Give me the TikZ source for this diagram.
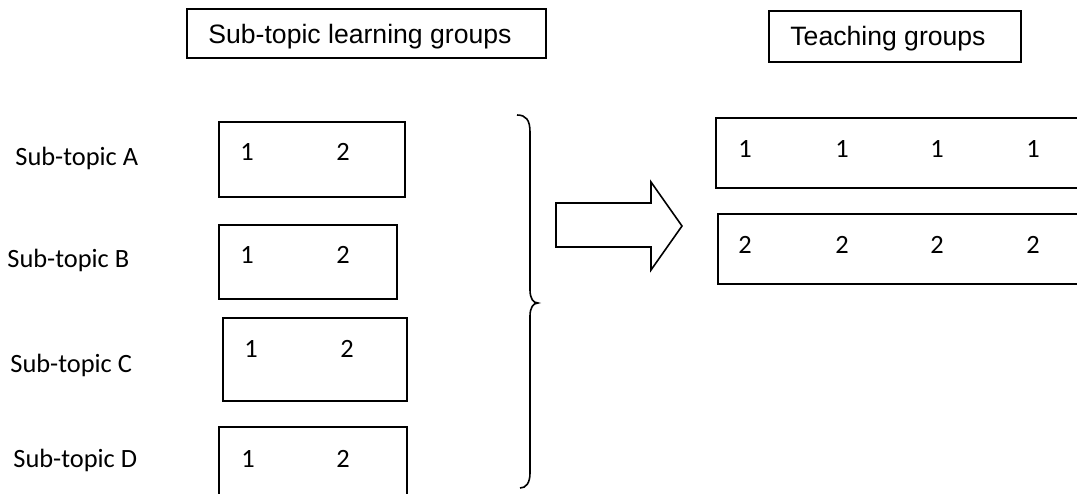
\documentclass[tikz,border=0pt]{standalone}
\usepackage{fontspec}
\setmainfont{Carlito}
\newfontfamily\headfont{Liberation Sans}
\usetikzlibrary{positioning}
\tikzset{
  headbox/.style={draw, line width=0.8pt, inner sep=0pt, font=\headfont\fontsize{13.3}{16}\selectfont},
  grpbox/.style={draw, line width=0.8pt, inner sep=0pt},
  topiclbl/.style={inner sep=0pt, anchor=base west, font=\fontsize{13.2}{16}\selectfont},
  numlbl/.style={inner sep=0pt, anchor=base, font=\fontsize{13.2}{16}\selectfont},
}
\begin{document}
\begin{tikzpicture}[x=0.5pt, y=-0.5pt]
\path[use as bounding box, clip] (0,0) rectangle (1077,493);
% headings
\node[headbox, minimum width=179.5pt, minimum height=24.5pt] (hlearn) at (366.5,33.5) {};
\node[inner sep=0pt, anchor=base west, font=\headfont\fontsize{13.3}{16}\selectfont] (tlearn) at (208,43) {Sub-topic learning groups};
\node[headbox, minimum width=126pt, minimum height=25.5pt] (hteach) at (895,36.5) {};
\node[inner sep=0pt, anchor=base west, font=\headfont\fontsize{13.3}{16}\selectfont] (tteach) at (790,45) {Teaching groups};
% sub-topic labels
\node[topiclbl] (labA) at (15,165) {Sub-topic A};
\node[topiclbl] (labB) at (7,267) {Sub-topic B};
\node[topiclbl] (labC) at (10,372) {Sub-topic C};
\node[topiclbl] (labD) at (13,467) {Sub-topic D};
% learning group boxes
\node[grpbox, minimum width=93pt, minimum height=37.5pt] (boxA) at (312,159.5) {};
\node[grpbox, minimum width=89pt, minimum height=37pt] (boxB) at (308,262) {};
\node[grpbox, minimum width=92pt, minimum height=41.5pt] (boxC) at (315,359.5) {};
\node[grpbox, minimum width=94pt, minimum height=40pt] (boxD) at (313,467) {};
\node[numlbl] (a1) at (247,160) {1};
\node[numlbl] (a2) at (343,160) {2};
\node[numlbl] (b1) at (247,263) {1};
\node[numlbl] (b2) at (343,263) {2};
\node[numlbl] (c1) at (251,357) {1};
\node[numlbl] (c2) at (347,357) {2};
\node[numlbl] (d1) at (248,467) {1};
\node[numlbl] (d2) at (343,467) {2};
% brace
\draw[line width=0.8pt] (517,115) .. controls (526,115) and (530,120) .. (530,132) -- (530,290)
  .. controls (530,298) and (533,303) .. (538,303) .. controls (533,303) and (530,308) .. (530,316)
  -- (530,473) .. controls (530,483) and (526,488) .. (520,488);
% block arrow
\draw[line width=0.8pt] (556,203) -- (651,203) -- (651,182) -- (682,226) -- (651,270) -- (651,247) -- (556,247) -- cycle;
% teaching group boxes
\node[grpbox, minimum width=187pt, minimum height=35pt] (teach1) at (903,153) {};
\node[grpbox, minimum width=186pt, minimum height=35pt] (teach2) at (904,249) {};
\foreach \x [count=\i] in {745,842,937,1033} {
  \node[numlbl] (one\i) at (\x,157) {1};
  \node[numlbl] (two\i) at (\x,253) {2};
}
\end{tikzpicture}
\end{document}
